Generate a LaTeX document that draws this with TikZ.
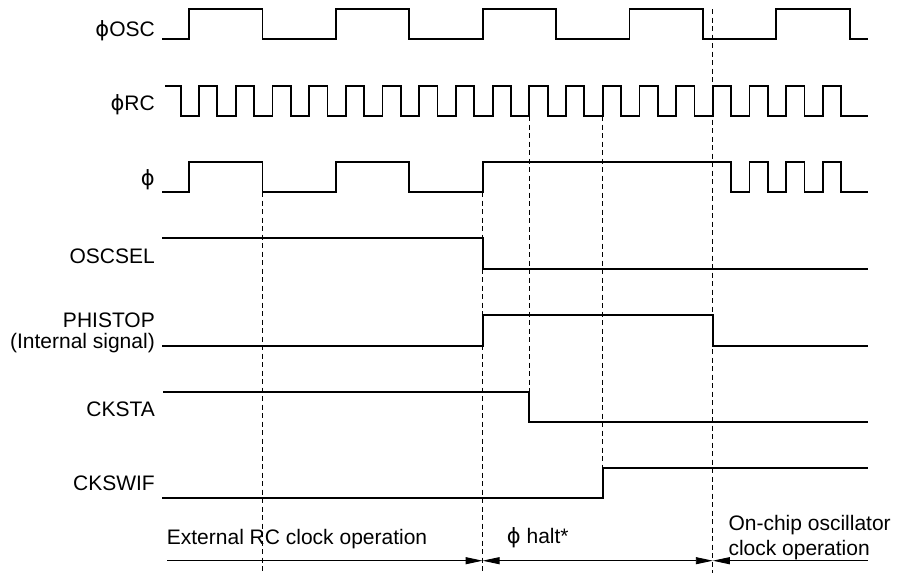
\documentclass[tikz,border=0pt]{standalone}
\usepackage{fontspec}
\setmainfont{Liberation Sans}
\newfontfamily\phifont{DejaVu Sans}
\usetikzlibrary{arrows.meta}
\newcommand{\ph}{{\phifont ϕ}}
\tikzset{
  sig/.style={line width=1.8pt},
  guide/.style={line width=0.7pt, dash pattern=on 5pt off 3.5pt},
  span/.style={line width=0.9pt},
  lbl/.style={anchor=base east, inner sep=0pt, font=\fontsize{21}{25}\selectfont},
  txt/.style={anchor=base west, inner sep=0pt, font=\fontsize{21}{25}\selectfont}
}
\begin{document}
\begin{tikzpicture}[x=1pt, y=-1pt, >={Triangle[length=17pt,width=7pt]}]
  \useasboundingbox (0,0) rectangle (902,573);
  % dashed guide lines
  \draw[guide] (262.4,192) -- (262.4,573);
  \draw[guide] (482.6,192) -- (482.6,573);
  \draw[guide] (529.3,116) -- (529.3,391.7);
  \draw[guide] (602.7,116) -- (602.7,468.3);
  \draw[guide] (712.8,9) -- (712.8,573);
  % signal names
  \node[lbl] (osc) at (155,36) {\ph OSC};
  \node[lbl] (rc) at (155,110) {\ph RC};
  \node[lbl] (phi) at (155,185) {\ph};
  \node[lbl] (oscsel) at (155,263.5) {OSCSEL};
  \node[lbl] (phistop) at (155,327) {PHISTOP};
  \node[lbl] (internal) at (155,348) {(Internal signal)};
  \node[lbl] (cksta) at (155,416.5) {CKSTA};
  \node[lbl] (ckswif) at (155,490) {CKSWIF};
  % phi OSC
  \draw[sig] (162,39) foreach \r in {189,335.8,482.6,629.4,776.2} {
    -- (\r,39) -- (\r,9) -- (\r+73.4,9) -- (\r+73.4,39) } -- (868,39);
  % phi RC
  \draw[sig] (165,86) -- (180.7,86) -- (180.7,116) foreach \k in {0,...,17} {
    -- (199+36.7*\k,116) -- (199+36.7*\k,86)
    -- (217.35+36.7*\k,86) -- (217.35+36.7*\k,116) } -- (868,116);
  % phi
  \draw[sig] (162,192) foreach \r in {189,335.8} {
    -- (\r,192) -- (\r,162) -- (\r+73.4,162) -- (\r+73.4,192) }
    -- (482.6,192) -- (482.6,162) -- (731.15,162) -- (731.15,192)
    foreach \k in {15,16,17} {
    -- (199+36.7*\k,192) -- (199+36.7*\k,162)
    -- (217.35+36.7*\k,162) -- (217.35+36.7*\k,192) } -- (868,192);
  % OSCSEL
  \draw[sig] (162,238.3) -- (482.6,238.3) -- (482.6,269) -- (868,269);
  % PHISTOP
  \draw[sig] (162,345.7) -- (482.6,345.7) -- (482.6,315.3) -- (712.8,315.3)
    -- (712.8,345.7) -- (868,345.7);
  % CKSTA
  \draw[sig] (163,391.7) -- (529.3,391.7) -- (529.3,422) -- (868,422);
  % CKSWIF
  \draw[sig] (162,498.3) -- (602.7,498.3) -- (602.7,468.3) -- (868,468.3);
  % operation periods
  \coordinate (p0) at (167,560.7);
  \coordinate (p1) at (482.6,560.7);
  \coordinate (p2) at (712.8,560.7);
  \coordinate (p3) at (868,560.7);
  \draw[span,->] (p0) -- (p1);
  \draw[span,<->] (p1) -- (p2);
  \draw[span,<-] (p2) -- (p3);
  \node[txt] (extrc) at (166.7,544) {External RC clock operation};
  \node[txt] (halt) at (506.7,543) {\ph\ halt*};
  \node[txt] (onchip) at (728.3,530) {On-chip oscillator};
  \node[txt] (onchip2) at (728.3,555) {clock operation};
\end{tikzpicture}
\end{document}
